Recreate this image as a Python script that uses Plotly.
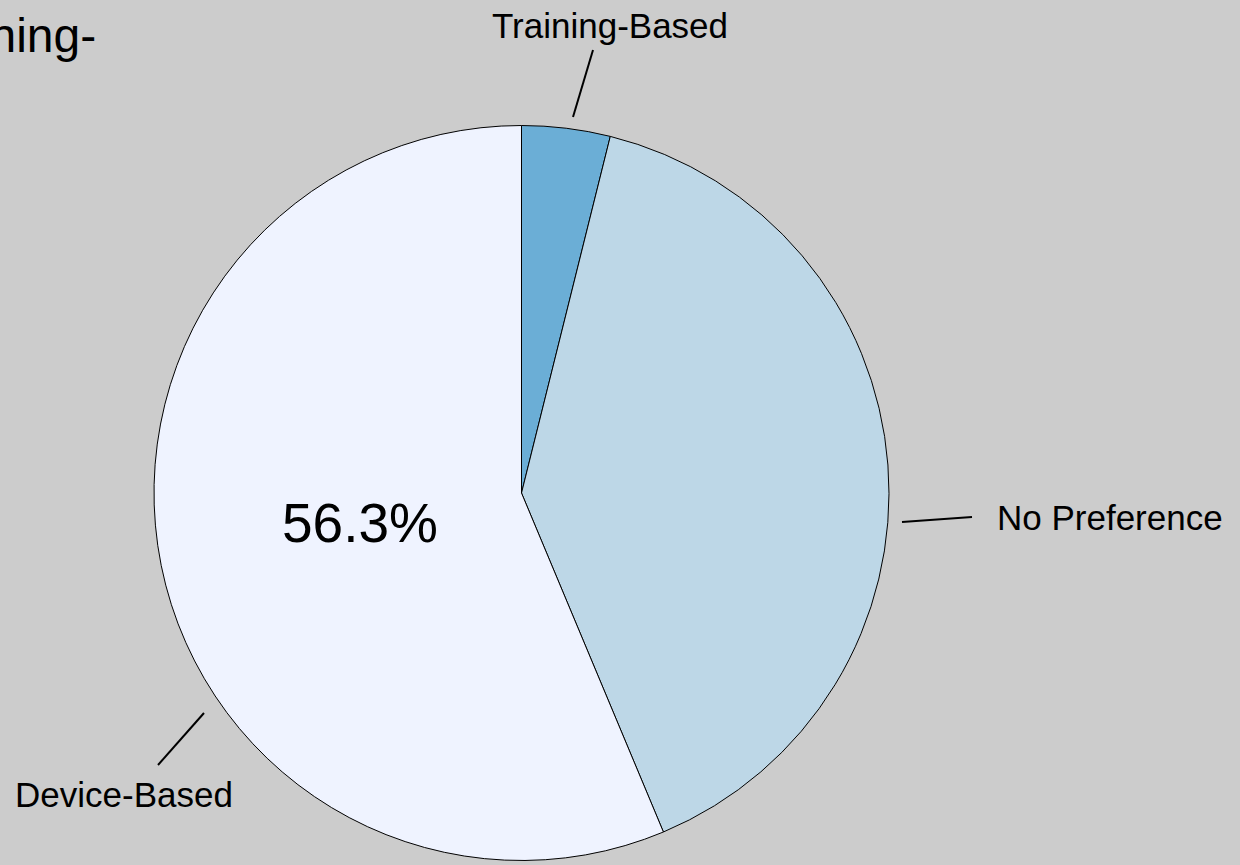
import math
import plotly.graph_objects as go

# survey answers (counts), slices drawn clockwise from 12 o'clock
labels = ["Training-Based", "No Preference", "Device-Based"]
counts = [4, 41, 58]
colors = ["#6baed6", "#bdd7e7", "#eff3ff"]

W, H = 1240, 865
# pie box in pixels
left, right, top, bottom = 154, 889, 125.5, 860.5


def px(x, y):
    # pixel position -> paper coords
    return x / W, 1 - y / H


total = sum(counts)

fig = go.Figure()
fig.add_trace(go.Pie(
    labels=labels, values=counts, sort=False, direction="clockwise", rotation=0,
    marker=dict(colors=colors, line=dict(color="black", width=1)),
    textinfo="none",
    domain=dict(x=[left / W, right / W], y=[1 - bottom / H, 1 - top / H]),
    showlegend=False, hoverinfo="label+percent",
))

# percent label of the big slice, set along its mid angle
cx, cy, r = (left + right) / 2, (top + bottom) / 2, (right - left) / 2
mid = (sum(counts[:2]) + counts[2] / 2) / total * 2 * math.pi
p = px(cx + 0.447 * r * math.sin(mid), cy - 0.447 * r * math.cos(mid) - 2)
fig.add_annotation(x=p[0], y=p[1], xref="paper", yref="paper",
                   text="%.1f%%" % (100 * counts[2] / total), showarrow=False,
                   xanchor="center", yanchor="middle",
                   font=dict(family="Liberation Sans, Arial", size=55, color="black"))

# leader lines (pixel endpoints) and label placements
leaders = [((573, 117), (593, 50)), ((902, 522), (972, 517)), ((158, 765), (204, 713))]
for (x0, y0), (x1, y1) in leaders:
    a = px(x0, y0)
    b = px(x1, y1)
    fig.add_shape(type="line", xref="paper", yref="paper", x0=a[0], y0=a[1], x1=b[0], y1=b[1],
                  line=dict(color="black", width=2))

lab_font = dict(family="Liberation Sans, Arial", size=35, color="black")
spots = [(610, 25, "center"), (995, 517, "left"), (124, 794, "center")]
for name, (x, y, anc) in zip(labels, spots):
    p = px(x, y)
    fig.add_annotation(x=p[0], y=p[1], xref="paper", yref="paper", text=name, showarrow=False,
                       xanchor=anc, yanchor="middle", font=lab_font)

# title is pushed off the left edge, only its tail shows
t = px(98, 36)
fig.add_annotation(x=t[0], y=t[1], xref="paper", yref="paper", text="Preference for Training-",
                   showarrow=False, xanchor="right", yanchor="middle",
                   font=dict(family="Liberation Sans, Arial", size=48, color="black"))

fig.update_layout(
    width=W, height=H, margin=dict(l=0, r=0, t=0, b=0),
    paper_bgcolor="#cccccc", plot_bgcolor="#cccccc",
)

fig.write_html("out.html", config={"displayModeBar": False},
               post_script="document.body.style.margin='0';")
